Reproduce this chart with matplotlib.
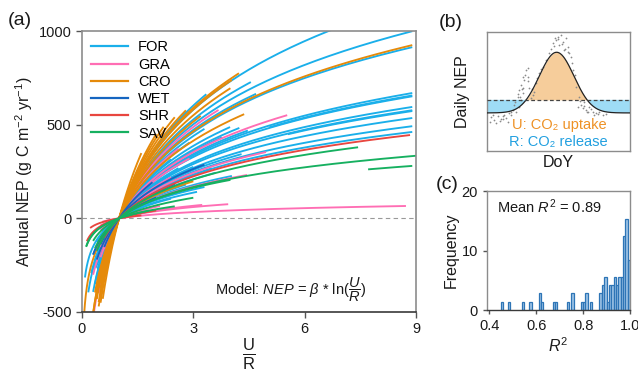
import numpy as np
import matplotlib
matplotlib.use("Agg")
import matplotlib.pyplot as plt

plt.rcParams['font.family'] = ['Liberation Sans', 'DejaVu Sans']
plt.rcParams['mathtext.fontset'] = 'custom'
plt.rcParams['mathtext.rm'] = 'Liberation Sans'
plt.rcParams['mathtext.it'] = 'Liberation Sans:italic'
plt.rcParams['mathtext.bf'] = 'Liberation Sans:bold'
plt.rcParams['axes.unicode_minus'] = False

# ---------------- data: panel (a) ----------------
types = ["FOR", "GRA", "CRO", "WET", "SHR", "SAV"]
type_colors = ["#1AAFEA", "#FF6EB4", "#E58A0A", "#1565C0", "#E8463F", "#16B060"]

# FOR
for_beta = [528, 457, 418, 480, 430, 548, 352, 334, 313, 326, 306, 298, 300, 272, 264, 262,
            245, 225, 211, 223, 213, 162, 380, 250, 280, 190, 175, 140, 120, 460, 400, 360,
            200, 235, 150, 170, 125]
for_xmin = [0.55, 0.50, 0.45, 0.60, 0.50, 0.62, 0.40, 0.35, 0.42, 0.30, 0.50, 0.45, 5.05, 0.38, 0.40, 5.55,
            0.35, 0.30, 0.25, 0.17, 0.35, 0.30, 0.55, 0.50, 0.60, 0.45, 0.50, 0.40, 0.55, 0.70, 0.65, 0.50,
            0.60, 0.75, 0.70, 0.60, 0.08]
for_xmax = [9.0, 8.9, 8.9, 4.55, 4.69, 3.35, 3.99, 4.24, 4.47, 3.77, 8.9, 8.9, 8.9, 8.9, 8.9, 8.9,
            8.9, 8.9, 8.9, 3.2, 3.5, 4.04, 2.9, 3.0, 2.6, 3.6, 2.8, 3.3, 2.4, 2.2, 3.3, 2.4,
            1.8, 4.3, 2.2, 1.8, 3.1]
# GRA
gra_beta = [444, 322, 221, 155, 30.4, 55, 61, 89, 390, 300, 250, 180, 500]
gra_xmin = [0.32, 0.60, 0.50, 0.55, 0.55, 0.50, 0.60, 0.50, 0.40, 0.50, 0.30, 0.45, 0.45]
gra_xmax = [3.68, 5.53, 4.96, 4.45, 8.73, 3.94, 3.24, 2.10, 2.60, 2.90, 2.40, 2.20, 1.80]
# CRO
cro_beta = [589, 597, 537, 529, 501, 377, 423, 180, 741, 650, 560, 470, 620, 420]
cro_xmin = [0.45, 0.55, 0.50, 0.55, 0.50, 0.35, 0.30, 0.06, 0.56, 0.50, 0.45, 0.40, 0.60, 0.30]
cro_xmax = [2.50, 1.47, 4.23, 4.04, 4.00, 4.37, 8.90, 3.00, 1.60, 2.00, 2.80, 3.20, 2.20, 1.90]
# WET
wet_beta = [240, 200, 300, 160]
wet_xmin = [0.40, 0.50, 0.60, 0.30]
wet_xmax = [3.30, 2.50, 1.90, 2.00]
# SHR
shr_beta = [204, 60, 34]
shr_xmin = [0.60, 0.13, 0.22]
shr_xmax = [8.84, 2.00, 1.60]
# SAV
sav_beta = [189, 152, 128, 70, 69, 148, 100]
sav_xmin = [0.40, 0.35, 7.71, 0.12, 0.11, 0.50, 0.30]
sav_xmax = [7.44, 9.00, 8.90, 2.50, 1.80, 4.00, 3.00]

x_ticks_a = [0, 3, 6, 9]
y_ticks_a = [-500, 0, 500, 1000]

# ---------------- data: panel (b) schematic ----------------
sch_baseline = 0.32
sch_threshold = 0.43
sch_peak = 0.83
sch_center = 0.487
sch_width = 0.1216
dot_doy = [0.028, 0.051, 0.075, 0.098, 0.121, 0.133, 0.156, 0.180, 0.203, 0.226, 0.214, 0.226,
           0.238, 0.249, 0.261, 0.273, 0.284, 0.296, 0.308, 0.319, 0.331, 0.343, 0.366, 0.389,
           0.413, 0.459, 0.483, 0.494, 0.517, 0.529, 0.552, 0.564, 0.541, 0.506, 0.436, 0.587,
           0.604, 0.622, 0.646, 0.657, 0.669, 0.681, 0.692, 0.716, 0.739, 0.762, 0.786, 0.021,
           0.063, 0.145, 0.191, 0.238, 0.809, 0.634, 0.110, 0.170, 0.255, 0.470, 0.575, 0.700,
           0.040, 0.088, 0.115, 0.165, 0.196, 0.220, 0.244, 0.268, 0.290, 0.315, 0.352, 0.378,
           0.448, 0.476, 0.500, 0.523, 0.547, 0.570, 0.595, 0.613, 0.652, 0.676, 0.705, 0.728,
           0.750, 0.775, 0.830, 0.290, 0.255, 0.232]
dot_nep = [0.283, 0.260, 0.294, 0.266, 0.303, 0.275, 0.317, 0.345, 0.331, 0.373, 0.457, 0.513,
           0.555, 0.485, 0.597, 0.681, 0.625, 0.527, 0.443, 0.471, 0.499, 0.569, 0.653, 0.709,
           0.765, 0.905, 0.933, 0.961, 0.975, 0.919, 0.947, 0.877, 0.849, 0.891, 0.821, 0.793,
           0.681, 0.541, 0.457, 0.387, 0.359, 0.415, 0.345, 0.373, 0.331, 0.317, 0.331, 0.246,
           0.232, 0.246, 0.387, 0.429, 0.303, 0.373, 0.290, 0.300, 0.530, 0.880, 0.820, 0.330,
           0.300, 0.250, 0.270, 0.330, 0.410, 0.480, 0.520, 0.640, 0.590, 0.520, 0.610, 0.690,
           0.860, 0.950, 0.940, 0.900, 0.860, 0.830, 0.740, 0.640, 0.420, 0.380, 0.330, 0.350,
           0.300, 0.310, 0.310, 0.700, 0.620, 0.450]

# ---------------- data: panel (c) histogram ----------------
r2_bin_left = [0.45, 0.48, 0.54, 0.57, 0.61, 0.62, 0.67, 0.68, 0.73, 0.75, 0.79, 0.80, 0.81, 0.83,
               0.87, 0.88, 0.89, 0.90, 0.91, 0.92, 0.93, 0.94, 0.95, 0.96, 0.97, 0.98, 0.99]
r2_counts = [1, 1, 1, 1, 2, 1, 1, 1, 1, 2, 1, 1, 2, 1,
             2, 3, 4, 1, 3, 3, 4, 3, 4, 4, 9, 11, 6]
n_sites = 72
bin_width = 0.01

# ---------------- figure ----------------
fig = plt.figure(figsize=(6.38, 3.74), dpi=100)
spine_gray = "#8C8C8C"
txt = "#1A1A1A"

# Panel (a)
ax = fig.add_axes([0.1285, 0.1658, 0.5235, 0.7513])
groups = [(for_beta, for_xmin, for_xmax), (gra_beta, gra_xmin, gra_xmax),
          (cro_beta, cro_xmin, cro_xmax), (wet_beta, wet_xmin, wet_xmax),
          (shr_beta, shr_xmin, shr_xmax), (sav_beta, sav_xmin, sav_xmax)]
for name, col, (bs, x0s, x1s) in zip(types, type_colors, groups):
    for b, x0, x1 in zip(bs, x0s, x1s):
        xx = np.geomspace(x0, x1, 150)
        ax.plot(xx, b * np.log(xx), color=col, lw=1.35, solid_capstyle='butt')
    ax.plot([], [], color=col, lw=1.6, label=name)
ax.axhline(0, color="#999999", lw=0.8, ls=(0, (4, 3)), zorder=0)
ax.set_xlim(0, 9)
ax.set_ylim(-500, 1000)
ax.set_xticks(x_ticks_a)
ax.set_yticks(y_ticks_a)
ax.tick_params(direction='out', length=4, width=1, colors="#555555", labelcolor=txt, labelsize=10.5)
for s in ax.spines.values():
    s.set_color(spine_gray)
    s.set_linewidth(1.2)
ax.spines['bottom'].set_color("#3A3A3A")
ax.set_ylabel("Annual NEP (g C m$^{-2}$ yr$^{-1}$)", fontsize=11.5, color=txt, labelpad=3)
ax.set_xlabel(r"$\frac{\mathrm{U}}{\mathrm{R}}$", fontsize=17, color=txt, labelpad=0)
leg = ax.legend(loc='upper left', frameon=False, fontsize=10.5, handlelength=2.5,
                handletextpad=0.7, labelspacing=0.22, borderaxespad=0.25, bbox_to_anchor=(0.0, 1.0))
ax.text(3.58, -383, r"Model: $NEP$ = $\beta$ * ln($\dfrac{U}{R}$)", fontsize=10.5, color=txt,
        ha='left', va='center')
fig.text(0.012, 0.945, "(a)", fontsize=14, color=txt, ha='left', va='center')

# Panel (b)
axb = fig.add_axes([0.7633, 0.5963, 0.2241, 0.318])
xs = np.linspace(0, 1, 400)
curve = sch_baseline + (sch_peak - sch_baseline) * np.exp(-(xs - sch_center) ** 2 / (2 * sch_width ** 2))
axb.fill_between(xs, curve, sch_threshold, where=curve >= sch_threshold, color="#F6CD9B",
                 interpolate=True, lw=0)
axb.fill_between(xs, curve, sch_threshold, where=curve <= sch_threshold, color="#9EDCF6",
                 interpolate=True, lw=0)
axb.scatter(dot_doy, dot_nep, s=1.6, color="#8A8A8A", zorder=3, lw=0)
axb.plot(xs, curve, color="#222222", lw=0.9, zorder=4)
axb.axhline(sch_threshold, color="#444444", lw=0.9, ls=(0, (3, 2)), zorder=4)
axb.set_xlim(0, 1)
axb.set_ylim(0, 1)
axb.set_xticks([])
axb.set_yticks([])
for s in axb.spines.values():
    s.set_color(spine_gray)
    s.set_linewidth(1.0)
axb.text(0.175, 0.22, "U: CO₂ uptake", color="#EE9226", fontsize=10.5, ha='left', va='center')
axb.text(0.155, 0.075, "R: CO₂ release", color="#22A0E0", fontsize=10.5, ha='left', va='center')
axb.set_ylabel("Daily NEP", fontsize=11.5, color=txt, labelpad=12)
axb.set_xlabel("DoY", fontsize=11.5, color=txt, labelpad=3)
fig.text(0.688, 0.94, "(b)", fontsize=14, color=txt, ha='left', va='center')

# Panel (c)
axc = fig.add_axes([0.7633, 0.1711, 0.2241, 0.318])
freq = [c / n_sites * 100 for c in r2_counts]
axc.bar(r2_bin_left, freq, width=bin_width, align='edge', color="#9DC3E6",
        edgecolor="#2E75B6", lw=0.9)
axc.set_xlim(0.39, 1.0)
axc.set_ylim(0, 20)
axc.set_xticks([0.4, 0.6, 0.8, 1.0])
axc.set_xticklabels(["0.4", "0.6", "0.8", "1.0"])
axc.set_yticks([0, 10, 20])
axc.tick_params(direction='out', length=3, width=1, colors="#555555", labelcolor=txt, labelsize=10.5)
for s in axc.spines.values():
    s.set_color(spine_gray)
    s.set_linewidth(1.0)
axc.spines['bottom'].set_color("#3A3A3A")
axc.text(0.07, 0.865, "Mean $R^2$ = 0.89", transform=axc.transAxes, fontsize=10.5,
         color=txt, ha='left', va='center')
axc.set_ylabel("Frequency", fontsize=11.5, color=txt, labelpad=2)
axc.set_xlabel("$R^2$", fontsize=11.5, color=txt, labelpad=2)
fig.text(0.683, 0.508, "(c)", fontsize=14, color=txt, ha='left', va='center')

fig.savefig("out.png", dpi=100)
